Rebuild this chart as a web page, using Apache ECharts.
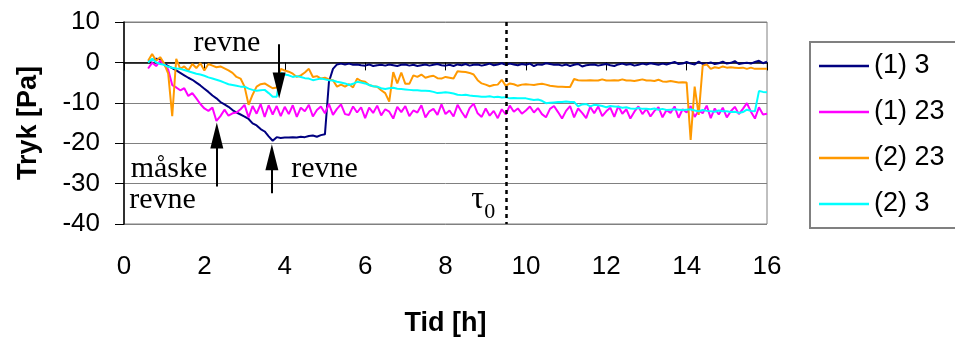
<!DOCTYPE html>
<html>
<head>
<meta charset="utf-8">
<script src="https://cdn.jsdelivr.net/npm/echarts@6/dist/echarts.min.js"></script>
<style>
  html, body { margin: 0; padding: 0; background: #fff; }
  #main { width: 955px; height: 342px; }
</style>
</head>
<body>
<div id="main"></div>
<script>
// maalinger hver 0.1 h fra 0.6 h til 16 h
var T0 = 0.6;
var DT = 0.1;
var seriesNames = ['(1) 3', '(1) 23', '(2) 23', '(2) 3'];
var seriesColors = ['#000080', '#FF00FF', '#FF9900', '#00FFFF'];
var xTicks = [0, 2, 4, 6, 8, 10, 12, 14, 16];
var yTicks = [-40, -30, -20, -10, 0, 10];

var s1_3 = [0.3, 0.5, 0.9, 0.8,
  -0.3, -0.9, -1.4, -2.0, -2.6, -3.2, -3.8, -4.3, -5.0, -5.7,
  -6.5, -7.3, -8.2, -8.9, -9.8, -10.4, -11.0, -11.8, -12.4, -12.9,
  -13.4, -14.0, -15.1, -15.6, -16.5, -17.1, -18.3, -19.4, -18.5, -18.7,
  -18.6, -18.6, -18.5, -18.6, -18.4, -18.5, -18.2, -18.1, -18.4, -18.0,
  -17.8, -4.8, -1.6, -0.5, -0.3, -0.5, -0.3, -0.6, -0.5, -0.7,
  -0.8, -0.5, -0.9, -0.7, -0.6, -0.8, -0.5, -0.7, -0.9, -0.6,
  -0.5, -0.8, -0.6, -0.9, -0.7, -0.5, -0.8, -0.6, -0.4, -0.7,
  -0.8, -0.6, -0.9, -0.5, -0.7, -0.4, -0.8, -0.6, -0.5, -0.8,
  -0.6, -0.3, -0.7, -0.5, -0.2, -0.6, -0.3, -0.5, -0.7, -0.4,
  -0.6, -0.3, -0.9, -0.5, -0.6, -0.2, -0.4, -0.6, -0.5, -0.8,
  -0.5, -0.9, -0.6, -0.4, -1.0, -0.7, -0.6, -0.5, -0.8, -0.6,
  -0.4, -0.7, -0.9, -0.5, -0.3, -0.6, -0.4, -0.8, -0.6, -0.3,
  -0.5, -0.2, -0.4, -0.6, -0.3, -0.5, -0.2, 0.1, -0.4, -0.3,
  0.1, -0.3, -0.5, 0.2, -0.4, -0.3, 0.0, -0.4, -0.2, 0.2,
  -0.3, -0.1, 0.3, -0.4, -0.2, -0.1, -0.3, 0.1, 0.4, -0.2,
  0.2];

var s1_23 = [-1.5, -0.1, -0.9, 0.4,
  -0.6, -1.8, -5.6, -6.2, -6.9, -6.4, -8.3, -7.6, -8.9, -10.3,
  -11.4, -12.0, -11.2, -14.5, -13.3, -11.7, -13.2, -12.6, -12.4, -11.6,
  -10.5, -13.6, -10.8, -12.7, -10.3, -13.5, -10.6, -12.9, -10.8, -13.3,
  -11.0, -12.8, -10.6, -13.5, -11.2, -12.1, -10.5, -13.4, -11.8, -10.9,
  -12.6, -10.3, -13.0, -11.5, -10.4, -12.8, -13.0, -10.9, -12.4, -11.1,
  -13.8, -11.2, -12.5, -10.7, -13.1, -11.6, -12.2, -13.9, -11.0, -12.3,
  -10.8, -13.3, -11.9, -12.4, -10.6, -13.6, -12.1, -11.5, -13.0, -10.4,
  -12.8, -11.9, -13.4, -10.5, -12.2, -13.7, -11.3, -10.2, -12.6, -13.5,
  -11.4, -13.2, -12.0, -13.8, -11.6, -12.9, -10.7, -12.2, -11.4, -12.7,
  -11.9, -10.9, -12.4, -11.3, -12.8, -13.6, -11.5, -10.8, -12.3, -13.9,
  -12.0, -10.8, -13.6, -11.4, -12.5, -13.8, -11.0, -12.6, -10.9, -13.3,
  -12.1, -11.2, -13.5, -10.8, -12.7, -11.6, -13.9, -12.2, -10.9, -12.8,
  -11.5, -13.4, -12.0, -11.1, -13.6, -11.8, -12.5, -10.9, -13.7, -11.6,
  -12.4, -10.8, -13.5, -11.9, -12.6, -10.7, -13.8, -11.4, -12.9, -11.2,
  -13.6, -12.1, -11.0, -12.8, -11.5, -10.1, -12.2, -13.9, -11.1, -12.9,
  -12.7];

var s2_23 = [0.4, 2.1, 0.4, 1.3,
  -0.3, -2.8, -13.3, 0.9, -1.6, -1.0, -2.0, -0.4, -1.4, -0.2,
  -2.0, -0.4, -0.8, -1.2, -1.0, -1.5, -2.0, -2.6, -3.6, -4.0,
  -6.0, -10.5, -8.0, -6.0, -5.4, -5.2, -5.8, -6.4, -6.2, -1.6,
  -2.0, -2.3, -2.8, -3.6, -3.2, -2.5, -1.6, -3.6, -3.4, -4.0,
  -3.8, -4.2, -4.4, -6.0, -5.5, -6.0, -5.4, -6.2, -4.0, -4.6,
  -4.8, -5.6, -5.9, -6.0, -6.9, -7.6, -9.7, -2.4, -5.2, -2.5,
  -5.3, -5.3, -3.2, -3.6, -3.0, -3.8, -3.5, -3.3, -3.9, -4.0,
  -3.6, -3.8, -4.0, -2.2, -2.3, -2.4, -2.6, -3.0, -4.4, -5.2,
  -5.5, -5.9, -5.6, -5.5, -4.3, -5.8, -5.2, -5.4, -5.8, -5.5,
  -5.4, -5.5, -5.6, -5.4, -5.3, -5.5, -5.8, -5.9, -6.0, -6.0,
  -6.1, -6.1, -4.1, -4.4, -4.5, -4.5, -4.4, -4.5, -4.5, -4.2,
  -4.5, -4.5, -4.4, -4.5, -4.2, -4.5, -4.5, -4.6, -4.4, -4.2,
  -4.5, -4.5, -4.6, -4.3, -4.7, -4.8, -4.6, -4.8, -5.0, -4.9,
  -5.0, -19.2, -6.0, -13.0, -0.8, -0.5, -1.6, -1.2, -1.4, -1.0,
  -1.3, -1.2, -1.3, -1.4, -1.3, -1.6, -1.3, -1.6, -1.6, -1.6,
  -1.6];

var s2_3 = [0.0, 0.9, 0.0, -0.4,
  -0.6, -1.1, -1.3, -1.5, -1.6, -1.9, -2.2, -2.5, -2.8, -3.0,
  -3.3, -3.7, -4.0, -4.3, -4.6, -5.0, -5.4, -5.6, -5.8, -6.0,
  -6.0, -6.5, -6.8, -7.0, -6.9, -6.8, -7.6, -8.5, -8.5, -2.6,
  -3.0, -3.2, -3.6, -3.4, -3.6, -3.9, -4.0, -4.4, -4.2, -4.0,
  -4.2, -4.4, -4.5, -4.8, -5.0, -5.2, -5.6, -5.3, -4.8, -5.0,
  -5.2, -5.6, -5.9, -6.0, -6.4, -6.6, -6.4, -6.3, -6.5, -6.6,
  -6.7, -6.8, -6.9, -6.9, -7.0, -7.0, -7.1, -7.3, -7.6, -7.5,
  -7.4, -7.5, -7.7, -8.0, -8.1, -8.0, -8.2, -8.3, -8.4, -8.5,
  -8.5, -8.4, -8.6, -8.5, -8.7, -8.6, -8.9, -8.8, -8.9, -8.9,
  -8.9, -9.1, -9.3, -9.2, -9.5, -10.1, -10.0, -9.9, -9.8, -9.8,
  -9.7, -9.8, -9.8, -10.9, -10.4, -10.3, -10.9, -10.5, -10.6, -10.8,
  -11.1, -10.8, -10.9, -11.0, -11.2, -11.1, -11.4, -11.5, -11.3, -11.5,
  -11.5, -11.6, -11.4, -11.7, -11.5, -11.8, -11.7, -11.6, -11.7, -11.8,
  -11.7, -11.6, -11.9, -12.1, -11.8, -12.0, -12.1, -12.2, -11.9, -12.1,
  -12.1, -12.3, -12.2, -12.5, -12.3, -11.7, -12.0, -12.1, -7.1, -7.3,
  -7.4];

// tekster og pile (tid, tryk)
var tau0Time = 9.5;
var notes = [
  { text: 'revne', t: 2.56, p: 4.85 },
  { text: 'måske', t: 1.12, p: -26.5 },
  { text: 'revne', t: 0.96, p: -34.0 },
  { text: 'revne', t: 4.99, p: -26.5 }
];
var arrows = [
  [[3.86, 4.5], [3.86, -5.7]],
  [[2.31, -30.7], [2.31, -18.1]],
  [[3.68, -32.4], [3.68, -23.5]]
];

function toPairs(vals) {
  return vals.map(function (v, i) {
    return [Math.round((T0 + i * DT) * 100) / 100, v];
  });
}

var sans = 'Arial, "Liberation Sans", sans-serif';
var serif = '"Times New Roman", "Liberation Serif", serif';

var chart = echarts.init(document.getElementById('main'));

var allSeries = [s1_3, s1_23, s2_23, s2_3].map(function (vals, k) {
  return {
    name: seriesNames[k],
    type: 'line',
    data: toPairs(vals),
    showSymbol: false,
    symbol: 'none',
    animation: false,
    lineStyle: { color: seriesColors[k], width: 2 },
    itemStyle: { color: seriesColors[k] }
  };
});

// hjaelpeserie til tau0-linje, pile og tekst
allSeries.push({
  name: 'notes',
  type: 'line',
  data: [],
  silent: true,
  animation: false,
  markLine: {
    silent: true,
    animation: false,
    label: { show: false },
    symbol: ['none', 'triangle'],
    symbolSize: [13, 26],
    lineStyle: { color: '#000', width: 2, type: 'solid' },
    data: arrows.map(function (a) {
      return [{ coord: a[0] }, { coord: a[1] }];
    }).concat([[
      { coord: [tau0Time, 10], symbol: 'none', lineStyle: { type: [4, 4], width: 2.5, color: '#000' } },
      { coord: [tau0Time, -40], symbol: 'none' }
    ]])
  },
  markPoint: {
    silent: true,
    animation: false,
    symbol: 'circle',
    symbolSize: 0,
    label: { show: true, position: 'inside', color: '#000', fontFamily: serif, fontSize: 30 },
    data: notes.map(function (n) {
      return { coord: [n.t, n.p], value: n.text, label: { formatter: n.text } };
    }).concat([
      { coord: [8.8, -34.0], label: { formatter: 'τ', fontSize: 32 } },
      { coord: [9.1, -37.0], label: { formatter: '0', fontSize: 22 } }
    ])
  }
});

var option = {
  backgroundColor: '#fff',
  animation: false,
  grid: {
    left: 124, right: 188, top: 22, bottom: 114,
    show: true, borderColor: '#808080', borderWidth: 1
  },
  legend: {
    data: seriesNames,
    orient: 'vertical',
    left: 810, top: 42,
    padding: [9, 12, 9, 9],
    itemGap: 16,
    itemWidth: 50,
    itemHeight: 2.5,
    icon: 'rect',
    borderColor: '#808080',
    borderWidth: 2,
    textStyle: { fontFamily: sans, fontSize: 27, color: '#000', lineHeight: 30 }
  },
  xAxis: {
    type: 'value',
    min: 0, max: 16, interval: 2,
    name: 'Tid [h]',
    nameLocation: 'middle',
    nameGap: 86,
    nameTextStyle: { fontFamily: sans, fontSize: 27, fontWeight: 'bold', color: '#000' },
    axisLine: { lineStyle: { color: '#000', width: 1.5 } },
    axisTick: { show: true, length: 8, lineStyle: { color: '#000' } },
    axisLabel: {
      margin: 30, fontFamily: sans, fontSize: 26, color: '#000',
      formatter: function (v) { return xTicks.indexOf(v) >= 0 ? String(v) : ''; }
    },
    splitLine: { show: false }
  },
  yAxis: {
    type: 'value',
    min: -40, max: 10, interval: 10,
    name: 'Tryk [Pa]',
    nameLocation: 'middle',
    nameRotate: 90,
    nameGap: 82,
    nameTextStyle: { fontFamily: sans, fontSize: 27, fontWeight: 'bold', color: '#000' },
    axisLine: { show: true, lineStyle: { color: '#000', width: 1.5 } },
    axisTick: { show: true, length: 9, lineStyle: { color: '#000' } },
    axisLabel: {
      margin: 24, fontFamily: sans, fontSize: 26, color: '#000',
      formatter: function (v) { return yTicks.indexOf(v) >= 0 ? String(v) : ''; }
    },
    splitLine: { show: true, lineStyle: { color: '#808080', width: 1 } }
  },
  series: allSeries
};

chart.setOption(option);
</script>
</body>
</html>
